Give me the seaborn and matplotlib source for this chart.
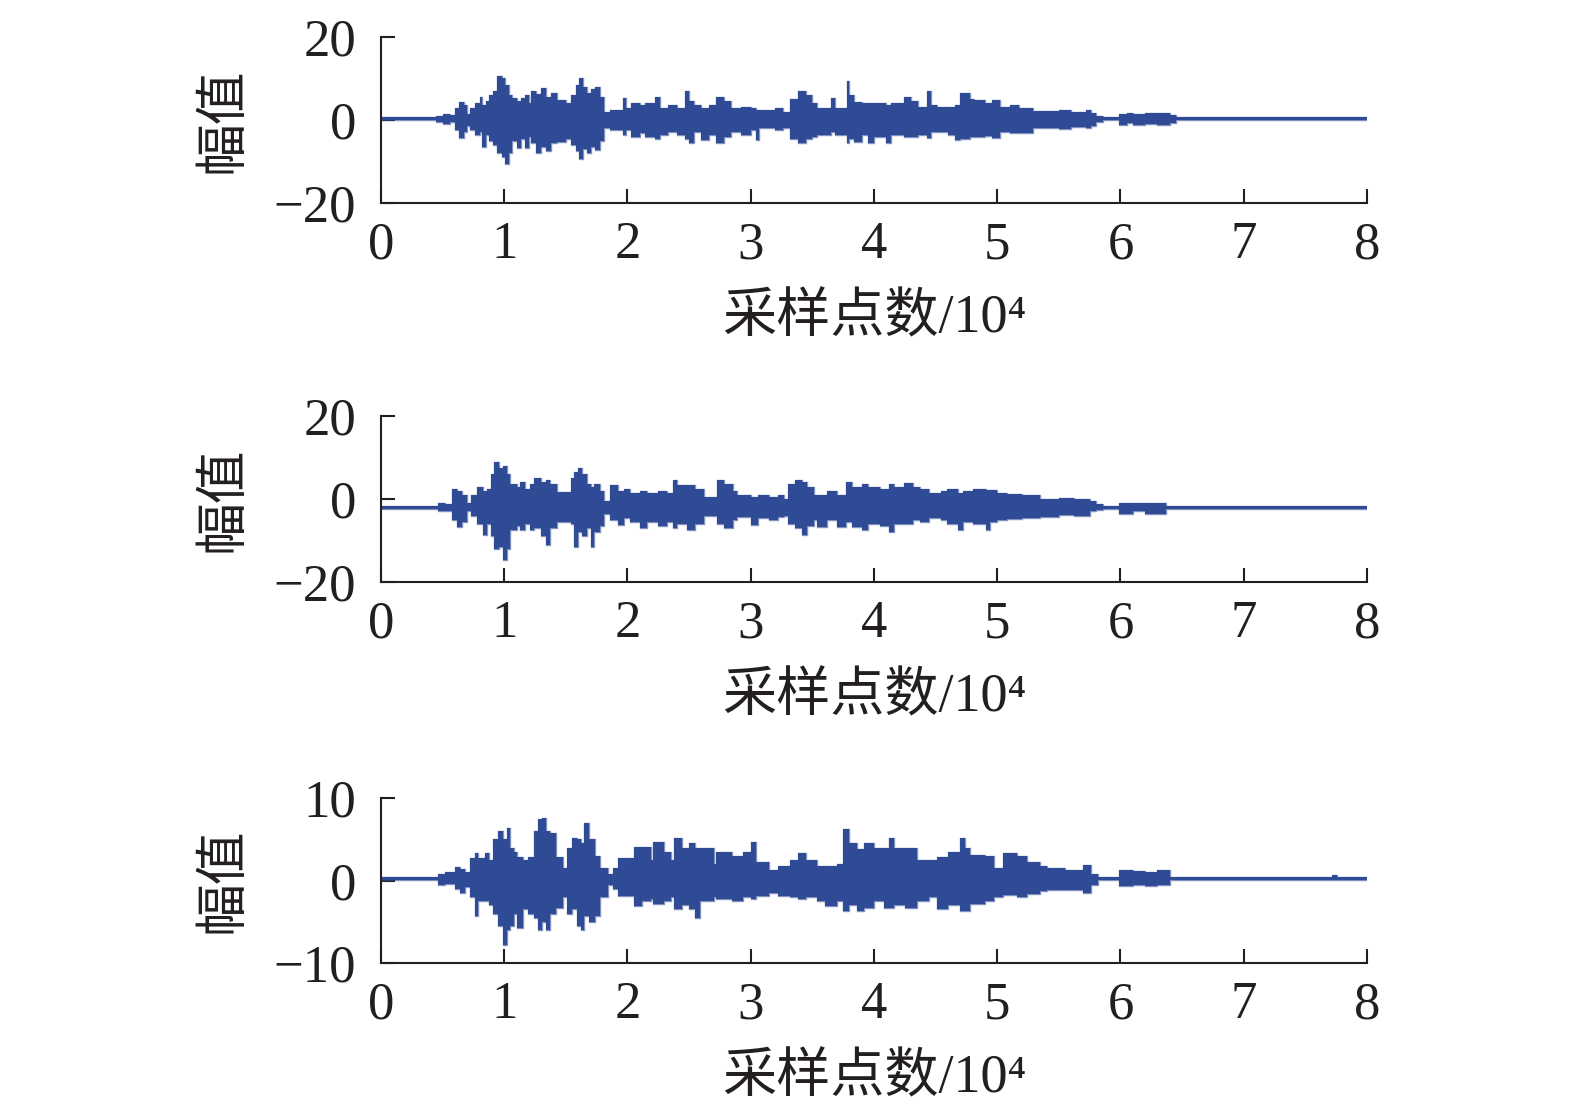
"""
Three stacked seismic-like records: amplitude against sample index (x10^4).
"""

import numpy as np
import pandas as pd
import matplotlib
matplotlib.use('Agg')
import matplotlib.pyplot as plt
import seaborn as sns

# Envelope of each record.
# x: sample index / 10^4 where a step starts, hi / lo: upper and lower envelope
rec1_x = [0.00, 0.45, 0.50, 0.56, 0.60, 0.63, 0.67, 0.70, 0.72, 0.76, 0.80, 0.82, 0.85, 0.88,
          0.91, 0.94, 0.98, 1.01, 1.04, 1.06, 1.10, 1.14, 1.17, 1.20, 1.22, 1.26, 1.30, 1.34,
          1.38, 1.43, 1.50, 1.54, 1.58, 1.61, 1.64, 1.67, 1.70, 1.74, 1.78, 1.81, 1.86, 1.96,
          1.99, 2.03, 2.10, 2.14, 2.22, 2.26, 2.33, 2.40, 2.47, 2.50, 2.54, 2.60, 2.66, 2.72,
          2.78, 2.84, 2.92, 3.00, 3.04, 3.07, 3.20, 3.26, 3.32, 3.38, 3.45, 3.50, 3.54, 3.65,
          3.68, 3.78, 3.80, 3.84, 3.90, 3.95, 4.00, 4.10, 4.14, 4.24, 4.30, 4.36, 4.43, 4.46,
          4.51, 4.60, 4.66, 4.70, 4.78, 4.81, 4.90, 4.96, 5.02, 5.10, 5.18, 5.29, 5.50, 5.60,
          5.72, 5.76, 5.80, 5.86, 5.99, 6.05, 6.10, 6.20, 6.30, 6.40, 6.45, 8.00]
rec1_hi = [0.75, 1.0, 1.5, 1.2, 3.0, 4.4, 3.5, 1.5, 3.0, 4.2, 5.6, 3.5, 4.5, 6.0,
           7.0, 10.5, 10.0, 8.5, 6.0, 5.2, 4.5, 5.2, 6.0, 4.0, 7.0, 6.2, 7.6, 5.5,
           6.5, 4.8, 4.0, 6.0, 8.5, 10.0, 8.0, 6.5, 7.5, 8.0, 5.5, 2.0, 2.4, 5.2,
           2.8, 4.2, 3.5, 4.2, 5.5, 3.0, 3.5, 2.8, 6.9, 4.5, 3.6, 3.0, 3.6, 5.5,
           4.5, 3.0, 3.2, 2.8, 2.5, 2.4, 2.8, 2.0, 5.0, 6.9, 6.0, 4.0, 3.0, 5.2,
           3.0, 9.4, 6.0, 4.4, 4.0, 4.0, 4.0, 3.5, 4.0, 5.5, 4.5, 3.2, 7.0, 3.5,
           3.2, 3.2, 3.6, 6.5, 5.0, 4.8, 4.2, 4.8, 3.2, 3.5, 3.0, 2.2, 2.4, 2.0,
           2.5, 1.8, 0.9, 0.75, 1.5, 1.8, 1.4, 1.8, 1.6, 1.2, 0.75, 0.75]
rec1_lo = [0.05, -0.5, -1.0, -0.6, -2.5, -4.4, -3.0, -1.5, -2.5, -3.5, -3.0, -6.5, -3.5, -5.0,
           -6.0, -8.0, -9.0, -10.5, -8.0, -5.0, -6.8, -4.5, -6.8, -4.0, -5.6, -8.0, -6.5, -7.5,
           -5.6, -5.2, -4.5, -6.0, -7.5, -9.3, -7.0, -8.0, -6.5, -7.3, -5.0, -2.0, -2.4, -3.5,
           -2.4, -4.0, -3.2, -4.0, -4.5, -3.6, -3.0, -3.6, -4.5, -5.6, -3.0, -4.8, -3.5, -5.6,
           -4.0, -3.0, -3.5, -2.5, -4.8, -2.0, -2.4, -2.0, -4.5, -5.6, -4.5, -4.0, -3.6, -3.0,
           -3.6, -5.6, -4.5, -5.2, -3.6, -5.6, -4.0, -5.6, -3.6, -4.0, -4.0, -3.5, -4.4, -3.0,
           -3.0, -3.5, -4.8, -4.5, -4.0, -4.2, -3.8, -4.4, -3.0, -3.2, -3.2, -2.0, -2.2, -1.8,
           -2.0, -1.5, -0.5, 0.05, -1.2, -0.8, -1.2, -0.9, -1.2, -0.8, 0.05, 0.05]

rec2_x = [0.00, 0.46, 0.52, 0.58, 0.62, 0.66, 0.70, 0.73, 0.78, 0.83, 0.86, 0.89, 0.92, 0.96,
          0.99, 1.02, 1.05, 1.10, 1.13, 1.17, 1.21, 1.24, 1.30, 1.34, 1.37, 1.43, 1.54, 1.57,
          1.60, 1.63, 1.67, 1.70, 1.73, 1.78, 1.81, 1.86, 1.92, 1.97, 2.02, 2.10, 2.16, 2.25,
          2.32, 2.37, 2.40, 2.48, 2.55, 2.62, 2.73, 2.78, 2.86, 2.89, 3.00, 3.06, 3.15, 3.22,
          3.27, 3.30, 3.36, 3.42, 3.46, 3.51, 3.54, 3.62, 3.70, 3.77, 3.82, 3.90, 3.95, 4.05,
          4.12, 4.16, 4.24, 4.32, 4.37, 4.45, 4.54, 4.59, 4.68, 4.72, 4.80, 4.91, 4.94, 5.00,
          5.08, 5.20, 5.35, 5.50, 5.62, 5.75, 5.80, 5.86, 5.99, 6.10, 6.20, 6.37, 8.00]
rec2_hi = [-1.65, -1.0, -1.2, 2.3, 2.0, 1.0, -1.0, 1.0, 2.9, 2.0, 2.5, 6.0, 9.0, 7.5,
           8.0, 6.0, 3.7, 3.0, 4.0, 2.5, 3.5, 5.0, 4.0, 4.5, 3.5, 1.7, 5.0, 6.5,
           7.4, 6.0, 3.7, 3.0, 3.5, 2.0, -0.5, 3.3, 2.0, 2.5, 1.5, 2.0, 1.5, 2.0,
           1.5, 4.5, 3.3, 3.3, 2.5, 0.5, 4.5, 3.5, 2.0, 1.0, 0.5, 1.0, 0.5, 1.0,
           0.0, 3.5, 4.5, 4.0, 3.0, 1.0, 1.0, 2.0, 1.0, 4.0, 3.0, 3.7, 3.0, 2.5,
           3.7, 3.0, 3.9, 3.0, 2.5, 1.5, 2.0, 2.5, 1.5, 2.0, 2.5, 2.1, 2.1, 1.5,
           1.3, 1.0, 0.1, 0.3, 0.1, -0.5, -1.3, -1.65, -0.9, -1.0, -0.9, -1.65, -1.65]
rec2_lo = [-2.35, -3.0, -3.0, -5.0, -6.7, -5.5, -3.0, -4.0, -6.0, -8.7, -6.0, -9.0, -12.0, -11.5,
           -14.8, -12.0, -7.5, -6.5, -7.5, -6.0, -7.5, -7.0, -9.0, -11.1, -7.0, -5.5, -6.0, -11.5,
           -8.0, -9.0, -7.0, -11.5, -8.0, -6.5, -3.5, -5.0, -6.3, -4.5, -5.5, -7.0, -5.5, -6.5,
           -5.5, -7.0, -6.0, -7.5, -6.0, -4.0, -6.0, -7.0, -5.0, -4.3, -6.3, -4.5, -5.0, -4.3,
           -4.0, -6.0, -7.0, -8.7, -6.5, -5.0, -6.7, -5.0, -6.7, -5.5, -6.7, -7.5, -6.0, -6.5,
           -8.0, -6.0, -6.0, -5.0, -5.5, -4.5, -5.0, -6.0, -7.5, -5.5, -6.0, -7.5, -5.5, -5.0,
           -4.7, -4.5, -4.3, -3.8, -4.0, -3.0, -2.6, -2.35, -3.5, -3.0, -3.5, -2.35, -2.35]

rec3_x = [0.00, 0.46, 0.52, 0.60, 0.64, 0.68, 0.72, 0.76, 0.79, 0.84, 0.88, 0.91, 0.95, 0.99,
          1.02, 1.05, 1.08, 1.10, 1.15, 1.19, 1.24, 1.27, 1.31, 1.34, 1.37, 1.42, 1.48, 1.51,
          1.55, 1.59, 1.62, 1.65, 1.69, 1.74, 1.78, 1.84, 1.88, 1.92, 2.05, 2.12, 2.19, 2.21,
          2.30, 2.35, 2.38, 2.44, 2.50, 2.55, 2.59, 2.70, 2.72, 2.85, 2.94, 3.00, 3.04, 3.15,
          3.22, 3.32, 3.38, 3.45, 3.54, 3.60, 3.70, 3.75, 3.80, 3.86, 3.92, 4.00, 4.08, 4.12,
          4.16, 4.25, 4.35, 4.45, 4.51, 4.60, 4.70, 4.74, 4.78, 4.90, 4.97, 5.05, 5.16, 5.24,
          5.35, 5.40, 5.55, 5.70, 5.76, 5.82, 5.99, 6.10, 6.20, 6.30, 6.40, 7.72, 7.76, 8.00]
rec3_hi = [0.48, 0.8, 1.0, 1.6, 1.4, 1.0, 2.7, 3.3, 2.7, 3.3, 2.5, 5.0, 6.0, 5.0,
           6.4, 4.0, 3.5, 2.9, 2.5, 2.9, 6.0, 7.5, 7.6, 6.0, 5.8, 2.9, 1.5, 4.0,
           5.2, 5.0, 4.5, 7.0, 5.0, 3.0, 1.5, 0.8, 1.5, 2.7, 4.1, 4.1, 2.5, 4.7,
           3.5, 2.5, 5.2, 4.0, 4.5, 4.0, 3.9, 2.0, 3.5, 3.0, 3.5, 4.7, 2.3, 1.3,
           1.8, 2.5, 3.3, 2.5, 1.7, 1.7, 2.0, 6.2, 4.5, 3.8, 4.5, 4.0, 4.0, 5.2,
           4.0, 4.0, 2.5, 2.5, 2.9, 3.5, 5.2, 4.0, 3.1, 3.0, 1.5, 3.3, 3.0, 2.3,
           1.8, 1.5, 1.3, 1.9, 0.8, 0.48, 1.3, 1.2, 1.0, 1.3, 0.48, 0.7, 0.48, 0.48]
rec3_lo = [0.12, -0.5, -0.4, -1.0, -1.5, -0.8, -2.0, -4.3, -2.5, -2.5, -3.0, -4.0, -5.5, -7.8,
           -6.0, -5.5, -4.0, -5.7, -3.5, -4.0, -4.5, -6.0, -5.0, -6.0, -4.0, -3.3, -2.0, -4.0,
           -3.5, -5.5, -6.0, -4.3, -5.0, -4.3, -2.0, -0.5, -1.0, -1.9, -3.1, -2.5, -2.2, -2.9,
           -2.5, -2.0, -3.5, -3.0, -3.5, -4.5, -2.5, -2.0, -2.3, -2.5, -2.0, -2.3, -1.9, -1.5,
           -1.9, -2.0, -2.3, -2.0, -2.5, -3.1, -2.5, -3.7, -3.0, -3.7, -3.3, -2.5, -3.3, -3.3,
           -3.0, -3.3, -2.5, -2.0, -3.5, -3.0, -3.7, -3.7, -2.8, -2.5, -2.0, -1.8, -2.0, -1.6,
           -1.3, -1.1, -1.2, -1.5, -0.5, 0.12, -0.7, -0.5, -0.7, -0.6, 0.12, 0.12, 0.12, 0.12]

x_ticks = [0, 1, 2, 3, 4, 5, 6, 7, 8]
y_ticks_big = [-20, 0, 20]
y_ticks_small = [-10, 0, 10]
x_label = '采样点数/10⁴'
y_label = '幅值'

WAVE_COLOR = '#2f4b95'
INK = '#231f20'


def plot_record(ax, x, hi, lo, yticks):
    """Draw one record as a filled stepped envelope with seaborn edges."""
    df = pd.DataFrame({'x': x, 'hi': hi, 'lo': lo})
    ax.fill_between(df['x'], df['lo'], df['hi'], step='post',
                    color=WAVE_COLOR, linewidth=0)
    for col in ['hi', 'lo']:
        sns.lineplot(data=df, x='x', y=col, ax=ax, color=WAVE_COLOR,
                     drawstyle='steps-post', linewidth=1.0, alpha=0.6)

    ax.set_xlim(0, 8)
    ax.set_ylim(yticks[0], yticks[-1])
    ax.set_xticks(x_ticks)
    ax.set_yticks(yticks)
    ax.set_xlabel(x_label, fontsize=39, labelpad=18)
    ax.set_ylabel(y_label, fontsize=38)
    ax.yaxis.set_label_coords(-0.134, 0.5)

    ax.tick_params(direction='in', length=10, width=1.5, colors=INK,
                   labelsize=38)
    ax.tick_params(axis='x', pad=13)
    ax.tick_params(axis='y', pad=18)
    sns.despine(ax=ax)
    for side in ['left', 'bottom']:
        ax.spines[side].set_linewidth(1.5)
        ax.spines[side].set_color(INK)
    ax.grid(False)


sns.set_style('ticks')
plt.rcParams['font.family'] = ['Liberation Serif', 'Noto Sans CJK SC', 'DejaVu Sans']
plt.rcParams['text.color'] = INK
plt.rcParams['axes.labelcolor'] = INK

fig = plt.figure(figsize=(15.75, 11.11), dpi=100)
rects = [[0.2419, 0.8173, 0.6260, 0.1494],
         [0.2419, 0.4761, 0.6260, 0.1495],
         [0.2419, 0.1332, 0.6260, 0.1485]]
records = [(rec1_x, rec1_hi, rec1_lo, y_ticks_big),
           (rec2_x, rec2_hi, rec2_lo, y_ticks_big),
           (rec3_x, rec3_hi, rec3_lo, y_ticks_small)]

for rect, (x, hi, lo, yt) in zip(rects, records):
    ax = fig.add_axes(rect)
    plot_record(ax, x, hi, lo, yt)

fig.savefig('out.png', dpi=100)
